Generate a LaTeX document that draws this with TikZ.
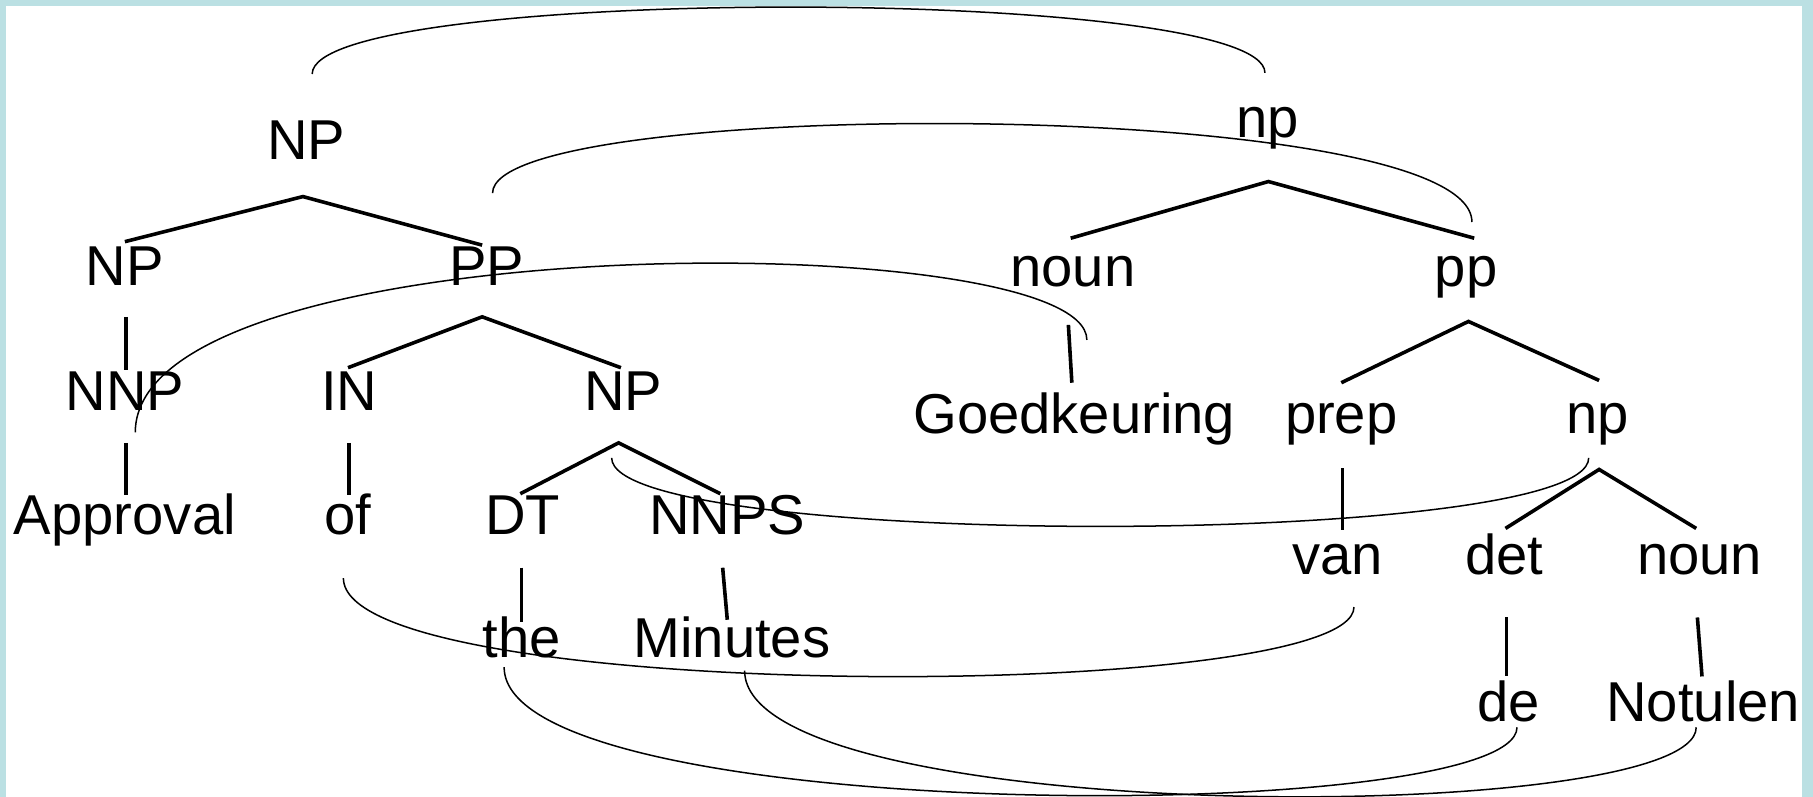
\documentclass[tikz,border=0pt]{standalone}
\usepackage{fontspec}
\setmainfont{Liberation Sans}
\usetikzlibrary{calc}
\definecolor{frameblue}{RGB}{187,224,227}
\begin{document}
\begin{tikzpicture}[x=1pt,y=-1pt,
  lbl/.style={anchor=base,inner sep=0pt,font=\fontsize{48.6}{58}\selectfont},
  branch/.style={line width=3.1pt},
  link/.style={line width=1.3pt}]
\useasboundingbox (0,0) rectangle (1568,689);
% frame
\fill[frameblue] (0,0) rectangle (1568,689);
\fill[white] (5.6,5.2) rectangle (1558.5,689);

% English tree
\node[lbl] (E1)  at (265,138) {NP};
\node[lbl] (E2)  at (108,247) {NP};
\node[lbl] (E3)  at (421,247) {PP};
\node[lbl] (E4)  at (108,355) {NNP};
\node[lbl] (E5)  at (302,355) {IN};
\node[lbl] (E6)  at (539,355) {NP};
\node[lbl] (E7)  at (108,462) {Approval};
\node[lbl] (E8)  at (301,462) {of};
\node[lbl] (E9)  at (452,462) {DT};
\node[lbl] (E10) at (629,462) {NNPS};
\node[lbl] (E11) at (451,569) {the};
\node[lbl] (E12) at (633,569) {Minutes};

% Dutch tree
\node[lbl] (D1)  at (1096,119) {np};
\node[lbl] (D2)  at (928,248)  {noun};
\node[lbl] (D3)  at (1268,248) {pp};
\node[lbl] (D4)  at (929,375)  {Goedkeuring};
\node[lbl] (D5)  at (1160,375) {prep};
\node[lbl] (D6)  at (1382,375) {np};
\node[lbl] (D7)  at (1157,497) {van};
\node[lbl] (D8)  at (1301,497) {det};
\node[lbl] (D9)  at (1470,497) {noun};
\node[lbl] (D10) at (1305,624) {de};
\node[lbl] (D11) at (1473,624) {Notulen};

% English branches
\draw[branch] ($(E2.base)+(0,-38)$) -- ($(E1.base)+(-3,32)$) -- ($(E3.base)+(-4,-35)$);
\draw[branch] ($(E2.base)+(1,27)$) -- ($(E4.base)+(1,-35)$);
\draw[branch] ($(E5.base)+(-1,-37)$) -- ($(E3.base)+(-4,27)$) -- ($(E6.base)+(-2,-37)$);
\draw[branch] ($(E4.base)+(1,28)$) -- ($(E7.base)+(1,-34)$);
\draw[branch] ($(E5.base)+(0,28)$) -- ($(E8.base)+(1,-34)$);
\draw[branch] ($(E9.base)+(-2,-35)$) -- ($(E6.base)+(-4,28)$) -- ($(E10.base)+(-6,-35)$);
\draw[branch] ($(E9.base)+(-1,29)$) -- ($(E11.base)+(0,-31)$);
\draw[branch] ($(E10.base)+(-4,29)$) -- ($(E12.base)+(-4,-33)$);

% Dutch branches
\draw[branch] ($(D2.base)+(-2,-42)$) -- ($(D1.base)+(1,38)$) -- ($(D3.base)+(7,-42)$);
\draw[branch] ($(D2.base)+(-4,33)$) -- ($(D4.base)+(-2,-44)$);
\draw[branch] ($(D5.base)+(0,-44)$) -- ($(D3.base)+(2,30)$) -- ($(D6.base)+(1,-46)$);
\draw[branch] ($(D5.base)+(1,30)$) -- ($(D7.base)+(4,-39)$);
\draw[branch] ($(D8.base)+(1,-40)$) -- ($(D6.base)+(1,31)$) -- ($(D9.base)+(-3,-40)$);
\draw[branch] ($(D8.base)+(2,37)$) -- ($(D10.base)+(-2,-39)$);
\draw[branch] ($(D9.base)+(-2,37)$) -- ($(D11.base)+(-1,-39)$);

% alignment links
\draw[link] ($(E1.base)+(5,-74)$) .. controls +(0,-77) and +(0,-76) .. ($(D1.base)+(-2,-56)$);
\draw[link] ($(E3.base)+(5,-80)$) .. controls +(0,-84) and +(0,-109) .. ($(D3.base)+(5,-56)$);
\draw[link] ($(E4.base)+(9,19)$) .. controls +(0,-179) and +(0,-99) .. ($(D4.base)+(11,-81)$);
\draw[link] ($(E6.base)+(-10,41)$) .. controls +(0,79) and +(0,79) .. ($(D6.base)+(-8,21)$);
\draw[link] ($(E8.base)+(-4,38)$) .. controls +(0,109) and +(0,84) .. ($(D7.base)+(14,28)$);
\draw[link] ($(E11.base)+(-15,8)$) .. controls +(0,138) and +(0,86) .. ($(D10.base)+(7,5)$);
\draw[link] ($(E12.base)+(11,11)$) .. controls +(0,136) and +(0,87) .. ($(D11.base)+(-6,5)$);
\end{tikzpicture}
\end{document}
